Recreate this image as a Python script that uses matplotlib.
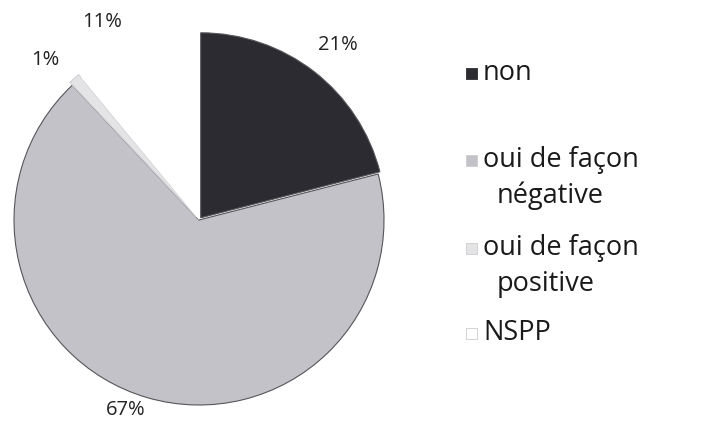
import matplotlib
matplotlib.use("Agg")
import numpy as np
import matplotlib.pyplot as plt
from matplotlib.patches import Rectangle

# survey answers, clockwise from 12 o'clock
categories = ["non", "oui de façon négative", "oui de façon positive", "NSPP"]
legend_lines = [["non"], ["oui de façon", "négative"], ["oui de façon", "positive"], ["NSPP"]]
shares = [21, 67, 1, 11]
colors = ["#2b2b31", "#c2c2c8", "#e4e4e6", "#ffffff"]

# label placement: radius factor and angular nudge (degrees) per wedge
label_dist = [1.21, 1.10, 1.20, 1.19]
label_nudge = [-0.7, -5.0, 2.5, 6.2]

plt.rcParams["font.family"] = ["Open Sans", "DejaVu Sans"]

W, H = 705, 441
fig = plt.figure(figsize=(W / 100, H / 100), dpi=100)

# pie axes: centre at (199, 221) px from the bottom-left, radius 185 px
R = 185.0
cx, cy = 199.0, 221.0
ax = fig.add_axes([0, 0, 2 * cx / W, 2 * cy / H])

wedges, _ = ax.pie(shares, colors=colors, startangle=90, counterclock=False,
                   explode=[0.015, 0, 0.02, 0],
                   wedgeprops=dict(edgecolor="#55555a", linewidth=0.8))
wedges[3].set_edgecolor("none")
wedges[2].set_edgecolor("#d0d0d4")

ax.set_xlim(-cx / R, cx / R)
ax.set_ylim(-cy / R, cy / R)
ax.set_aspect("equal")
ax.axis("off")

# percentage labels outside each wedge
cum = np.cumsum([0] + shares[:-1])
for s, c0, d, nd in zip(shares, cum, label_dist, label_nudge):
    ang = np.deg2rad(90 - (c0 + s / 2) / 100 * 360 + nd)
    ax.text(d * np.cos(ang), d * np.sin(ang), "{}%".format(s),
            ha="center", va="center", fontsize=14.5, color="#222222", clip_on=False)

# legend on the right
row_y = [73, 160, 248, 333]
for lines, col, y in zip(legend_lines, colors, row_y):
    fig.patches.append(Rectangle((466 / W, 1 - (y + 6) / H), 11 / W, 11 / H,
                                 transform=fig.transFigure, facecolor=col,
                                 edgecolor="#cccccc" if col != colors[0] else col,
                                 linewidth=0.6))
    for j, line in enumerate(lines):
        fig.text((483 if j == 0 else 497) / W, 1 - (y + 36 * j) / H, line,
                 fontsize=19.5, color="#1a1a1a", ha="left", va="center")

fig.savefig("out.png", dpi=100, facecolor="white")
